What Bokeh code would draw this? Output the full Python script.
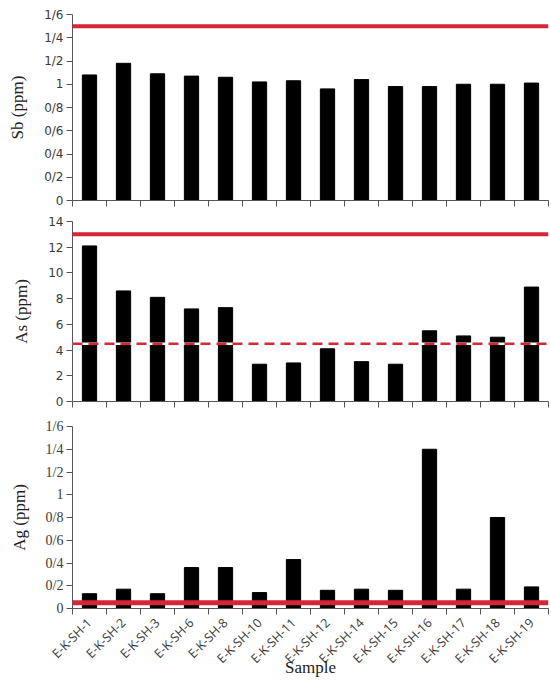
from math import pi
from bokeh.plotting import figure
from bokeh.layouts import column
from bokeh.models import FixedTicker, Range1d, Span
from bokeh.embed import file_html
from bokeh.resources import INLINE

samples = ["E-K-SH-1", "E-K-SH-2", "E-K-SH-3", "E-K-SH-6", "E-K-SH-8", "E-K-SH-10",
           "E-K-SH-11", "E-K-SH-12", "E-K-SH-14", "E-K-SH-15", "E-K-SH-16",
           "E-K-SH-17", "E-K-SH-18", "E-K-SH-19"]

sb_values = [1.08, 1.18, 1.09, 1.07, 1.06, 1.02, 1.03, 0.96, 1.04, 0.98, 0.98, 1.00, 1.00, 1.01]
as_values = [12.1, 8.6, 8.1, 7.2, 7.3, 2.9, 3.0, 4.1, 3.1, 2.9, 5.5, 5.1, 5.0, 8.9]
ag_values = [0.13, 0.17, 0.13, 0.36, 0.36, 0.14, 0.43, 0.16, 0.17, 0.16, 1.40, 0.17, 0.80, 0.19]

sb_limit = 1.5
as_limit = 13.0
as_mean = 4.5
ag_limit = 0.05

sb_ticks = [0, 0.2, 0.4, 0.6, 0.8, 1.0, 1.2, 1.4, 1.6]
sb_tick_labels = ["0", "0/2", "0/4", "0/6", "0/8", "1", "1/2", "1/4", "1/6"]
as_ticks = [0, 2, 4, 6, 8, 10, 12, 14]
as_tick_labels = ["0", "2", "4", "6", "8", "10", "12", "14"]
ag_ticks = [0, 0.2, 0.4, 0.6, 0.8, 1.0, 1.2, 1.4, 1.6]
ag_tick_labels = ["0", "0/2", "0/4", "0/6", "0/8", "1", "1/2", "1/4", "1/6"]

RED = "#d42637"
AXIS = "#555555"
TICKTXT = "#3a3a3a"
n = len(samples)
centers = [i + 0.5 for i in range(n)]
bounds = list(range(n + 1))


def panel(values, ticks, tick_labels, ymax, ylabel, frame_h, top, bottom,
          tick_font="DejaVu Sans", tick_size="12px", last=False):
    p = figure(frame_width=476, frame_height=frame_h, output_backend="svg",
               toolbar_location=None,
               x_range=Range1d(0, n), y_range=Range1d(0, ymax),
               min_border_left=72, min_border_right=3,
               min_border_top=top, min_border_bottom=bottom)
    p.outline_line_color = None
    p.grid.visible = False
    p.vbar(x=centers, top=values, width=0.42, color="black")

    ya = p.yaxis[0]
    ya.ticker = FixedTicker(ticks=ticks, minor_ticks=[])
    ya.major_label_overrides = {t: l for t, l in zip(ticks, tick_labels)}
    ya.axis_line_color = AXIS
    ya.major_tick_line_color = AXIS
    ya.major_tick_in = 0
    ya.major_tick_out = 6
    ya.major_label_text_font = tick_font
    ya.major_label_text_font_size = tick_size
    ya.major_label_text_color = TICKTXT
    ya.major_label_standoff = 3
    ya.axis_label = ylabel
    ya.axis_label_text_font = "Liberation Serif"
    ya.axis_label_text_font_style = "normal"
    ya.axis_label_text_font_size = "17px"
    ya.axis_label_text_color = "#222222"
    ya.axis_label_standoff = 14

    xa = p.xaxis[0]
    xa.axis_line_color = AXIS
    xa.minor_tick_line_color = AXIS
    xa.minor_tick_in = 0
    xa.minor_tick_out = 6
    xa.major_tick_line_color = None
    if last:
        xa.ticker = FixedTicker(ticks=centers, minor_ticks=bounds)
        xa.major_label_overrides = {c: s for c, s in zip(centers, samples)}
        xa.major_label_orientation = pi / 4
        xa.major_label_text_font = "Open Sans"
        xa.major_label_text_font_size = "12.5px"
        xa.major_label_text_color = TICKTXT
        xa.major_label_standoff = 6
        xa.axis_label = "Sample"
        xa.axis_label_text_font = "Liberation Serif"
        xa.axis_label_text_font_style = "normal"
        xa.axis_label_text_font_size = "17px"
        xa.axis_label_text_color = "#222222"
        xa.axis_label_standoff = -18
    else:
        xa.ticker = FixedTicker(ticks=[], minor_ticks=bounds)
        xa.major_label_text_font_size = "0px"
    return p


p1 = panel(sb_values, sb_ticks, sb_tick_labels, 1.6, "Sb (ppm)", 186, 14, 15)
p1.add_layout(Span(location=sb_limit, dimension="width", line_color=RED, line_width=4))

p2 = panel(as_values, as_ticks, as_tick_labels, 14, "As (ppm)", 180, 6, 17)
p2.add_layout(Span(location=as_limit, dimension="width", line_color=RED, line_width=4))
p2.add_layout(Span(location=as_mean, dimension="width", line_color="white", line_width=2.5))
p2.add_layout(Span(location=as_mean, dimension="width", line_color=RED, line_width=2.5,
                   line_dash="10 6"))

p3 = panel(ag_values, ag_ticks, ag_tick_labels, 1.6, "Ag (ppm)", 182, 8, 66,
           tick_font="Liberation Serif", tick_size="14px", last=True)
p3.add_layout(Span(location=ag_limit, dimension="width", line_color=RED, line_width=5))

layout = column(p1, p2, p3, spacing=0)
open("out.html", "w").write(file_html(layout, INLINE))
